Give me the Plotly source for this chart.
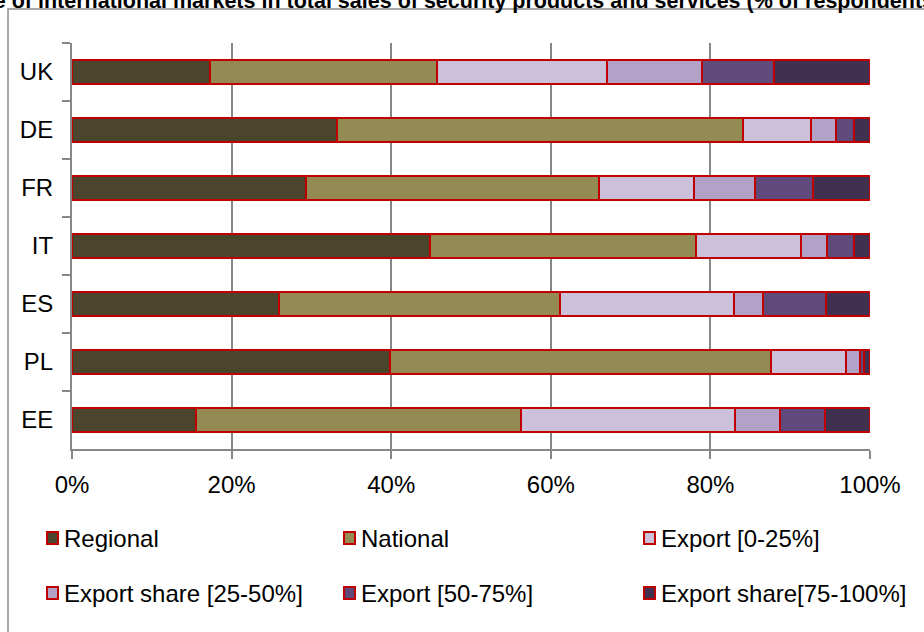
import plotly.graph_objects as go

# Countries (top to bottom) and share of respondents per sales-market band
countries = ["UK", "DE", "FR", "IT", "ES", "PL", "EE"]
series_names = ["Regional", "National", "Export [0-25%]",
                "Export share [25-50%]", "Export [50-75%]", "Export share[75-100%]"]
regional = [17.3, 33.2, 29.3, 44.8, 25.9, 39.8, 15.5]
national = [28.4, 50.9, 36.8, 33.4, 35.3, 47.8, 40.8]
export_0_25 = [21.3, 8.5, 11.9, 13.2, 21.8, 9.4, 26.8]
export_25_50 = [11.9, 3.1, 7.6, 3.2, 3.6, 1.7, 5.6]
export_50_75 = [9.1, 2.3, 7.2, 3.4, 7.9, 0.6, 5.7]
export_75_100 = [12.0, 2.0, 7.2, 2.0, 5.5, 0.7, 5.6]
x_tick_values = [0, 0.2, 0.4, 0.6, 0.8, 1.0]
x_tick_labels = ["0%", "20%", "40%", "60%", "80%", "100%"]
title_text = ("Share of international markets in total sales of security "
              "products and services (% of respondents)")

series_values = [regional, national, export_0_25, export_25_50, export_50_75, export_75_100]
colors = ["#4B452D", "#948A54", "#CCC1DA", "#B3A2C7", "#604A7B", "#403151"]
outline = "#C00000"
grid = "#878787"
font = "Liberation Sans, Arial, sans-serif"

W_FIG, H_FIG = 924, 632
L, R, T, B = 72, 870, 43, 449


def px_x(px):
    return (px - L) / (R - L)


def px_y(py):
    return (B - py) / (B - T)


fig = go.Figure()
for name, vals, col in zip(series_names, series_values, colors):
    fig.add_trace(go.Bar(
        y=countries,
        x=[v / 100 for v in vals],
        name=name,
        orientation="h",
        width=0.4,
        marker=dict(color=col, line=dict(color=outline, width=2)),
        showlegend=False,
    ))

shapes = [
    # outer chart frame
    dict(type="rect", xref="paper", yref="paper",
         x0=px_x(8), x1=px_x(980), y0=px_y(700), y1=px_y(9),
         line=dict(color="#8C8C8C", width=1.5), fillcolor="rgba(0,0,0,0)", layer="below"),
]
annotations = [
    dict(text="<b>" + title_text + "</b>", xref="paper", yref="paper",
         x=px_x(443), y=px_y(1), xanchor="center", yanchor="middle",
         showarrow=False, font=dict(family=font, size=21.5, color="#000000")),
]

# legend drawn as a 3-column grid of swatches and labels
col_x = [47, 344, 644]
row_y = [538, 593]
for i, (name, col) in enumerate(zip(series_names, colors)):
    cx = col_x[i % 3]
    cy = row_y[i // 3]
    shapes.append(dict(type="rect", xref="paper", yref="paper",
                       x0=px_x(cx), x1=px_x(cx + 11), y0=px_y(cy + 6), y1=px_y(cy - 6),
                       line=dict(color=outline, width=2), fillcolor=col))
    annotations.append(dict(text=name, xref="paper", yref="paper",
                            x=px_x(cx + 15), y=px_y(cy), xanchor="left", yanchor="middle",
                            showarrow=False, font=dict(family=font, size=24, color="#000000")))

fig.update_layout(
    width=W_FIG, height=H_FIG,
    margin=dict(l=L, r=W_FIG - R, t=T, b=H_FIG - B, pad=0),
    barmode="stack",
    paper_bgcolor="white", plot_bgcolor="white",
    font=dict(family=font, size=24, color="#000000"),
    shapes=shapes,
    annotations=annotations,
    xaxis=dict(range=[0, 1], tickvals=x_tick_values, ticktext=x_tick_labels,
               showgrid=True, gridcolor=grid, gridwidth=1.5,
               showline=True, linecolor=grid, linewidth=2,
               ticks="outside", ticklen=8, tickcolor=grid, tickwidth=1.5,
               ticklabelstandoff=5, zeroline=False,
               tickfont=dict(family=font, size=24)),
    yaxis=dict(categoryorder="array", categoryarray=countries, autorange="reversed",
               showgrid=False, showline=True, linecolor=grid, linewidth=2,
               ticks="outside", tickson="boundaries", ticklen=8, tickcolor=grid, tickwidth=1.5,
               ticklabelstandoff=12, zeroline=False,
               tickfont=dict(family=font, size=24)),
)

fig.write_html("out.html")
